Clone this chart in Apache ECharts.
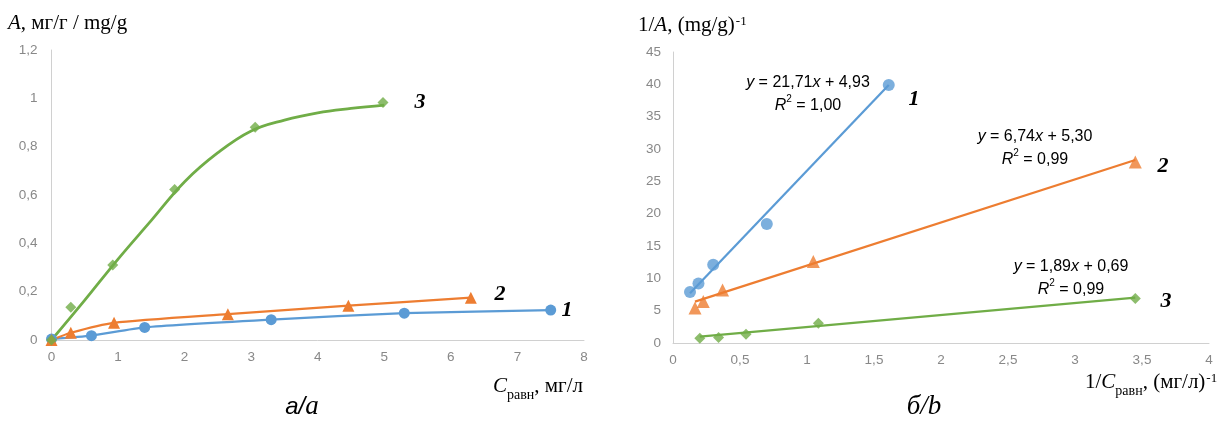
<!DOCTYPE html>
<html><head><meta charset="utf-8">
<script src="https://cdn.jsdelivr.net/npm/echarts@6/dist/echarts.min.js"></script>
<style>html,body{margin:0;padding:0;background:#fff}#c{width:1222px;height:421px}</style>
</head><body><div id="c"></div>
<script>
// ---- Panel a: isotherms A vs C ----
const cA1 = [0, 0.6, 1.4, 3.3, 5.3, 7.5];
const aA1 = [0.004, 0.018, 0.052, 0.084, 0.111, 0.124];
const cA2 = [0, 0.29, 0.94, 2.65, 4.46, 6.3];
const aA2 = [0, 0.03, 0.071, 0.107, 0.142, 0.175];
const cA3 = [0, 0.29, 0.92, 1.85, 3.06, 4.98];
const aA3 = [0, 0.136, 0.31, 0.623, 0.88, 0.983];
// trend curve of series 3
const fit3C = [0, 0.5, 1, 1.5, 2, 2.5, 3, 3.5, 4, 4.5, 5];
const fit3A = [0, 0.165, 0.335, 0.495, 0.655, 0.775, 0.865, 0.91, 0.94, 0.958, 0.972];
// ---- Panel b: linearised 1/A vs 1/C ----
const invC1 = [0.127, 0.19, 0.30, 0.70, 1.61];
const invA1 = [7.9, 9.2, 12.1, 18.4, 39.9];
const invC2 = [0.164, 0.226, 0.37, 1.047, 3.45];
const invA2 = [5.4, 6.4, 8.2, 12.6, 28.0];
const invC3 = [0.20, 0.34, 0.545, 1.085, 3.45];
const invA3 = [0.75, 0.85, 1.35, 3.05, 6.9];
// trend line endpoints
const trend1X = [0.127, 1.61], trend1Y = [7.7, 39.9];
const trend2X = [0.164, 3.45], trend2Y = [6.4, 28.3];
const trend3X = [0.2, 3.45], trend3Y = [1.0, 7.0];
const eq1 = ['21,71', '4,93', '1,00'];
const eq2 = ['6,74', '5,30', '0,99'];
const eq3 = ['1,89', '0,69', '0,99'];

const BLUE = '#5B9BD5', ORANGE = '#ED7D31', GREEN = '#70AD47';
const zip = (xs, ys) => xs.map((x, i) => [x, ys[i]]);
const comma = v => String(+v.toFixed(2)).replace('.', ',');
const tickFont = {color: '#888888', fontSize: 13.5, fontFamily: 'Liberation Sans, Arial, sans-serif'};
const axisLine = {show: true, lineStyle: {color: '#d0d0d0', width: 1}};
const SERIF = 'Liberation Serif, Times New Roman, serif';
const SANS = 'Liberation Sans, Arial, sans-serif';

function valAxis(gi, min, max, interval, margin) {
  return {type: 'value', gridIndex: gi, min, max, interval,
    axisLine, axisTick: {show: false}, splitLine: {show: false},
    axisLabel: Object.assign({formatter: comma, margin}, tickFont)};
}

const option = {
  animation: false,
  grid: [
    {left: 51.5, right: 1222 - 584, top: 50, bottom: 421 - 340},
    {left: 673, right: 1222 - 1209, top: 52, bottom: 421 - 343}
  ],
  xAxis: [valAxis(0, 0, 8, 1, 10), valAxis(1, 0, 4, 0.5, 10)],
  yAxis: [valAxis(0, 0, 1.2, 0.2, 14), valAxis(1, 0, 45, 5, 12)],
  series: [
    {type: 'line', xAxisIndex: 0, yAxisIndex: 0, data: zip(cA1, aA1), smooth: 0.2,
      symbol: 'circle', symbolSize: 11, lineStyle: {color: BLUE, width: 2.25}, itemStyle: {color: BLUE}, z: 3},
    {type: 'line', xAxisIndex: 0, yAxisIndex: 0, data: zip(cA2, aA2), smooth: 0.2,
      symbol: 'triangle', symbolSize: 12, lineStyle: {color: ORANGE, width: 2.25}, itemStyle: {color: ORANGE}, z: 3},
    {type: 'line', xAxisIndex: 0, yAxisIndex: 0, data: zip(fit3C, fit3A), smooth: 0.4,
      symbol: 'none', lineStyle: {color: GREEN, width: 2.75}, z: 2},
    {type: 'scatter', xAxisIndex: 0, yAxisIndex: 0, data: zip(cA3, aA3),
      symbol: 'diamond', symbolSize: 11, itemStyle: {color: GREEN}, z: 4},

    {type: 'line', xAxisIndex: 1, yAxisIndex: 1, data: zip(trend1X, trend1Y),
      symbol: 'none', lineStyle: {color: BLUE, width: 2.25}, z: 2},
    {type: 'line', xAxisIndex: 1, yAxisIndex: 1, data: zip(trend2X, trend2Y),
      symbol: 'none', lineStyle: {color: ORANGE, width: 2.25}, z: 2},
    {type: 'line', xAxisIndex: 1, yAxisIndex: 1, data: zip(trend3X, trend3Y),
      symbol: 'none', lineStyle: {color: GREEN, width: 2.25}, z: 2},
    {type: 'scatter', xAxisIndex: 1, yAxisIndex: 1, data: zip(invC1, invA1),
      symbol: 'circle', symbolSize: 12, itemStyle: {color: BLUE}, z: 4},
    {type: 'scatter', xAxisIndex: 1, yAxisIndex: 1, data: zip(invC2, invA2),
      symbol: 'triangle', symbolSize: 13, itemStyle: {color: ORANGE}, z: 4},
    {type: 'scatter', xAxisIndex: 1, yAxisIndex: 1, data: zip(invC3, invA3),
      symbol: 'diamond', symbolSize: 11, itemStyle: {color: GREEN}, z: 4}
  ],
  graphic: []
};

function txt(x, y, text, rich, style, align) {
  option.graphic.push({type: 'text', x, y, z: 10,
    style: Object.assign({text, rich, fill: '#000', align: align || 'left', verticalAlign: 'middle'}, style || {})});
}
const serifRich = {
  n: {fontFamily: SERIF, fontSize: 21, lineHeight: 26, verticalAlign: 'top'},
  i: {fontFamily: SERIF, fontSize: 21, fontStyle: 'italic', lineHeight: 26, verticalAlign: 'top'},
  sup: {fontFamily: SERIF, fontSize: 13, lineHeight: 20, verticalAlign: 'top', padding: [0, 0, 0, 1]},
  sub: {fontFamily: SERIF, fontSize: 14, lineHeight: 6, verticalAlign: 'bottom'}
};
txt(8, 26, '{i|A}{n|, мг/г / mg/g}', serifRich);
txt(638, 28, '{n|1/}{i|A}{n|, (mg/g)}{sup|-1}', serifRich);
txt(493, 389, '{i|C}{sub|равн}{n|, мг/л}', serifRich);
txt(1085, 385, '{n|1/}{i|C}{sub|равн}{n|, (мг/л)}{sup|-1}', serifRich);

const capRich = {
  s: {fontFamily: SANS, fontSize: 24, fontStyle: 'italic'},
  r: {fontFamily: SERIF, fontSize: 27, fontStyle: 'italic'}
};
txt(302, 407, '{s|а/}{r|a}', capRich, null, 'center');
txt(924, 407, '{r|б/b}', capRich, null, 'center');

const numStyle = {fontFamily: SERIF, fontSize: 22, fontStyle: 'italic', fontWeight: 'bold'};
const numTxt = (x, y, t) => txt(x, y, t, null, Object.assign({}, numStyle), 'center');
numTxt(420, 102, '3');
numTxt(500, 294, '2');
numTxt(567, 310, '1');
numTxt(914, 99, '1');
numTxt(1163, 166, '2');
numTxt(1166, 301, '3');

const eqRich = {
  n: {fontFamily: SANS, fontSize: 16, lineHeight: 19, verticalAlign: 'bottom'},
  i: {fontFamily: SANS, fontSize: 16, fontStyle: 'italic', lineHeight: 19, verticalAlign: 'bottom'},
  sup: {fontFamily: SANS, fontSize: 10, lineHeight: 15, verticalAlign: 'top'}
};
function eq(cx, y1, y2, e) {
  txt(cx, y1, '{i|y}{n| = ' + e[0] + '}{i|x}{n| + ' + e[1] + '}', eqRich, null, 'center');
  txt(cx, y2, '{i|R}{sup|2}{n| = ' + e[2] + '}', eqRich, null, 'center');
}
eq(808, 81, 104, eq1);
eq(1035, 135, 158, eq2);
eq(1071, 265, 288, eq3);

const chart = echarts.init(document.getElementById('c'), null, {renderer: 'canvas'});
chart.setOption(option);
</script>
</body></html>
